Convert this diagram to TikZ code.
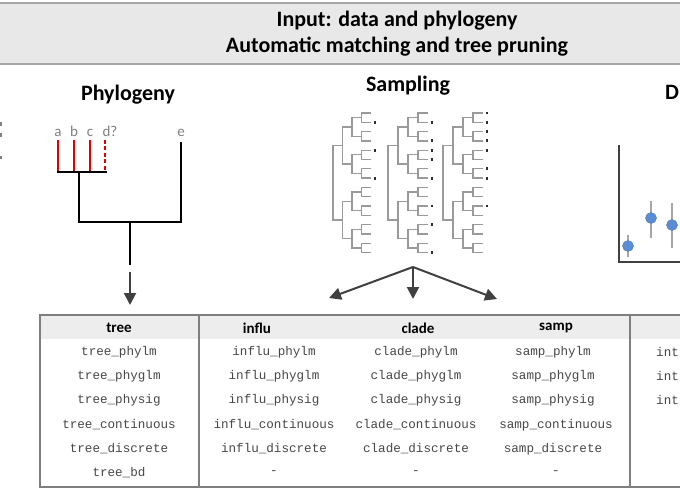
\documentclass[tikz,border=0pt]{standalone}
\usepackage{fontspec}
\setmainfont{Carlito}
\newfontfamily\monof{Liberation Mono}
\usetikzlibrary{arrows.meta}
\definecolor{bandfill}{HTML}{E8E8E8}
\definecolor{bandline}{HTML}{A6A6A6}
\definecolor{tborder}{HTML}{7F7F7F}
\definecolor{hdrfill}{HTML}{EDEDED}
\definecolor{treered}{HTML}{E00000}
\definecolor{sampc}{HTML}{9A9A9A}
\definecolor{markc}{HTML}{2E2E2E}
\definecolor{arrc}{HTML}{404040}
\definecolor{monoc}{HTML}{474747}
\definecolor{ptblue}{HTML}{5B8DD3}
\definecolor{barc}{HTML}{A6A6A6}
\newcommand{\samptree}[5]{%
  \foreach \j in {0,...,7}{%
    \draw[sampline] ({#1+4*#2},{#3+(2*\j)*#4}) -- ({#1+3*#2},{#3+(2*\j)*#4}) -- ({#1+3*#2},{#3+(2*\j+1)*#4}) -- ({#1+4*#2},{#3+(2*\j+1)*#4});}
  \foreach \k in {0,...,3}{%
    \draw[sampline] ({#1+3*#2},{#3+(4*\k+0.5)*#4}) -- ({#1+2*#2},{#3+(4*\k+0.5)*#4}) -- ({#1+2*#2},{#3+(4*\k+2.5)*#4}) -- ({#1+3*#2},{#3+(4*\k+2.5)*#4});}
  \foreach \m in {0,1}{%
    \draw[sampline] ({#1+2*#2},{#3+(8*\m+1.5)*#4}) -- ({#1+#2},{#3+(8*\m+1.5)*#4}) -- ({#1+#2},{#3+(8*\m+5.5)*#4}) -- ({#1+2*#2},{#3+(8*\m+5.5)*#4});}
  \draw[sampline] ({#1+#2},{#3+3.5*#4}) -- ({#1},{#3+3.5*#4}) -- ({#1},{#3+11.5*#4}) -- ({#1+#2},{#3+11.5*#4});
  \foreach \t in {#5}{%
    \fill[markc] ({#1+4*#2+2.5},{#3+\t*#4-1.4}) rectangle +(2.8,2.8);}
}
\begin{document}
\begin{tikzpicture}[x=1pt,y=-1pt,
  bigtitle/.style={font=\fontsize{22}{24}\selectfont\bfseries, text=black, inner sep=0pt},
  colhead/.style={font=\fontsize{15}{17}\selectfont\bfseries, text=black, inner sep=0pt},
  cell/.style={font=\monof\fontsize{12.6}{14}\selectfont, text=monoc, inner sep=0pt},
  tiplab/.style={font=\fontsize{15}{17}\selectfont, text=gray, inner sep=0pt, anchor=base},
  blk/.style={draw=black, line width=2.2pt},
  redl/.style={draw=treered, line width=2.6pt},
  sampline/.style={draw=sampc, line width=1.3pt},
  bigarrow/.style={draw=arrc, line width=2pt, -{Triangle[length=12pt,width=12pt]}},
  errbar/.style={draw=barc, line width=2pt},
  pt/.style={fill=ptblue, draw=ptblue!85!black, line width=0.4pt}]
\useasboundingbox (0,0) rectangle (680,500);
\fill[white] (0,0) rectangle (680,500);
\clip (0,0) rectangle (680,500);

% header band
\fill[bandfill] (0,3) rectangle (680,64);
\draw[bandline, line width=2pt] (0,3) -- (680,3);
\draw[bandline, line width=2pt] (0,64) -- (680,64);
\node[bigtitle] (h1) at (397,21) {Input: data and phylogeny};
\node[bigtitle] (h2) at (397,47) {Automatic matching and tree pruning};

% left-edge fragments
\fill[gray] (0,122) rectangle (2,126);
\fill[gray] (0,133) rectangle (2,137);
\fill[gray] (0,156) rectangle (2,159);

% Phylogeny panel
\node[bigtitle] (ptitle) at (128,95) {Phylogeny};
\node[tiplab] (la) at (58,136) {a};
\node[tiplab] (lb) at (74,136) {b};
\node[tiplab] (lc) at (90,136) {c};
\node[tiplab] (ld) at (110,136) {d?};
\node[tiplab] (le) at (181,136) {e};
\draw[redl] (58,140) -- (58,171);
\draw[redl] (74,140) -- (74,171);
\draw[redl] (90,140) -- (90,171);
\draw[redl, dash pattern=on 4pt off 2.5pt] (105,140) -- (105,171);
\draw[blk] (57,172) -- (107,172);
\draw[blk] (79,172) -- (79,222) -- (181,222) -- (181,142);
\draw[blk] (130,222) -- (130,265);
\coordinate (parrs) at (130,272);
\coordinate (parre) at (130,305);
\draw[bigarrow] (parrs) -- (parre);

% Sampling panel
\node[bigtitle] (stitle) at (408,86) {Sampling};
\samptree{333}{9.5}{113}{9.3}{1,4,7}
\samptree{388}{10}{113}{9.3}{1,3,4,5,7,10,12,15}
\samptree{443}{10}{113}{9.3}{0,1,2,3,4,6,7,10}
\coordinate (sroot) at (413,267);
\coordinate (sl) at (329,298);
\coordinate (sm) at (413,299);
\coordinate (sr) at (497,299);
\draw[bigarrow] (sroot) -- (sl);
\draw[bigarrow] (sroot) -- (sm);
\draw[bigarrow] (sroot) -- (sr);

% right panel (cropped)
\node[bigtitle, anchor=west] (dtitle) at (665,92) {D};
\draw[errbar] (628,235) -- (628,257);
\draw[errbar] (651,201) -- (651,238);
\draw[errbar] (672,203) -- (672,248);
\draw[draw=arrc, line width=2.2pt] (619,145) -- (619,262) -- (681,262);
\fill[pt] (628,246) circle (5.5);
\fill[pt] (651,218) circle (5.5);
\fill[pt] (672,225) circle (5.5);

% table
\fill[hdrfill] (40,315) rectangle (681,339);
\draw[tborder, line width=2pt] (681,315) -- (40,315) -- (40,487) -- (681,487);
\draw[tborder, line width=2pt] (199,315) -- (199,487);
\draw[tborder, line width=2pt] (630,315) -- (630,487);
\node[colhead] (ctree) at (119,328) {tree};
\node[colhead] (cinflu) at (257,328) {influ};
\node[colhead] (cclade) at (418,328) {clade};
\node[colhead] (csamp) at (556,328) {samp};

\node[cell] at (119,352) {tree\_phylm};
\node[cell] at (119,376) {tree\_phyglm};
\node[cell] at (119,400) {tree\_physig};
\node[cell] at (119,425) {tree\_continuous};
\node[cell] at (119,449) {tree\_discrete};
\node[cell] at (119,473) {tree\_bd};

\node[cell] at (274,352) {influ\_phylm};
\node[cell] at (274,376) {influ\_phyglm};
\node[cell] at (274,400) {influ\_physig};
\node[cell] at (274,425) {influ\_continuous};
\node[cell] at (274,449) {influ\_discrete};
\node[cell] at (274,473) {-};

\node[cell] at (416,352) {clade\_phylm};
\node[cell] at (416,376) {clade\_phyglm};
\node[cell] at (416,400) {clade\_physig};
\node[cell] at (416,425) {clade\_continuous};
\node[cell] at (416,449) {clade\_discrete};
\node[cell] at (416,473) {-};

\node[cell] at (553,352) {samp\_phylm};
\node[cell] at (553,376) {samp\_phyglm};
\node[cell] at (553,400) {samp\_physig};
\node[cell] at (556,425) {samp\_continuous};
\node[cell] at (553,449) {samp\_discrete};
\node[cell] at (556,473) {-};

\node[cell, anchor=west] at (656,352) {int};
\node[cell, anchor=west] at (656,376) {int};
\node[cell, anchor=west] at (656,400) {int};
\end{tikzpicture}
\end{document}
